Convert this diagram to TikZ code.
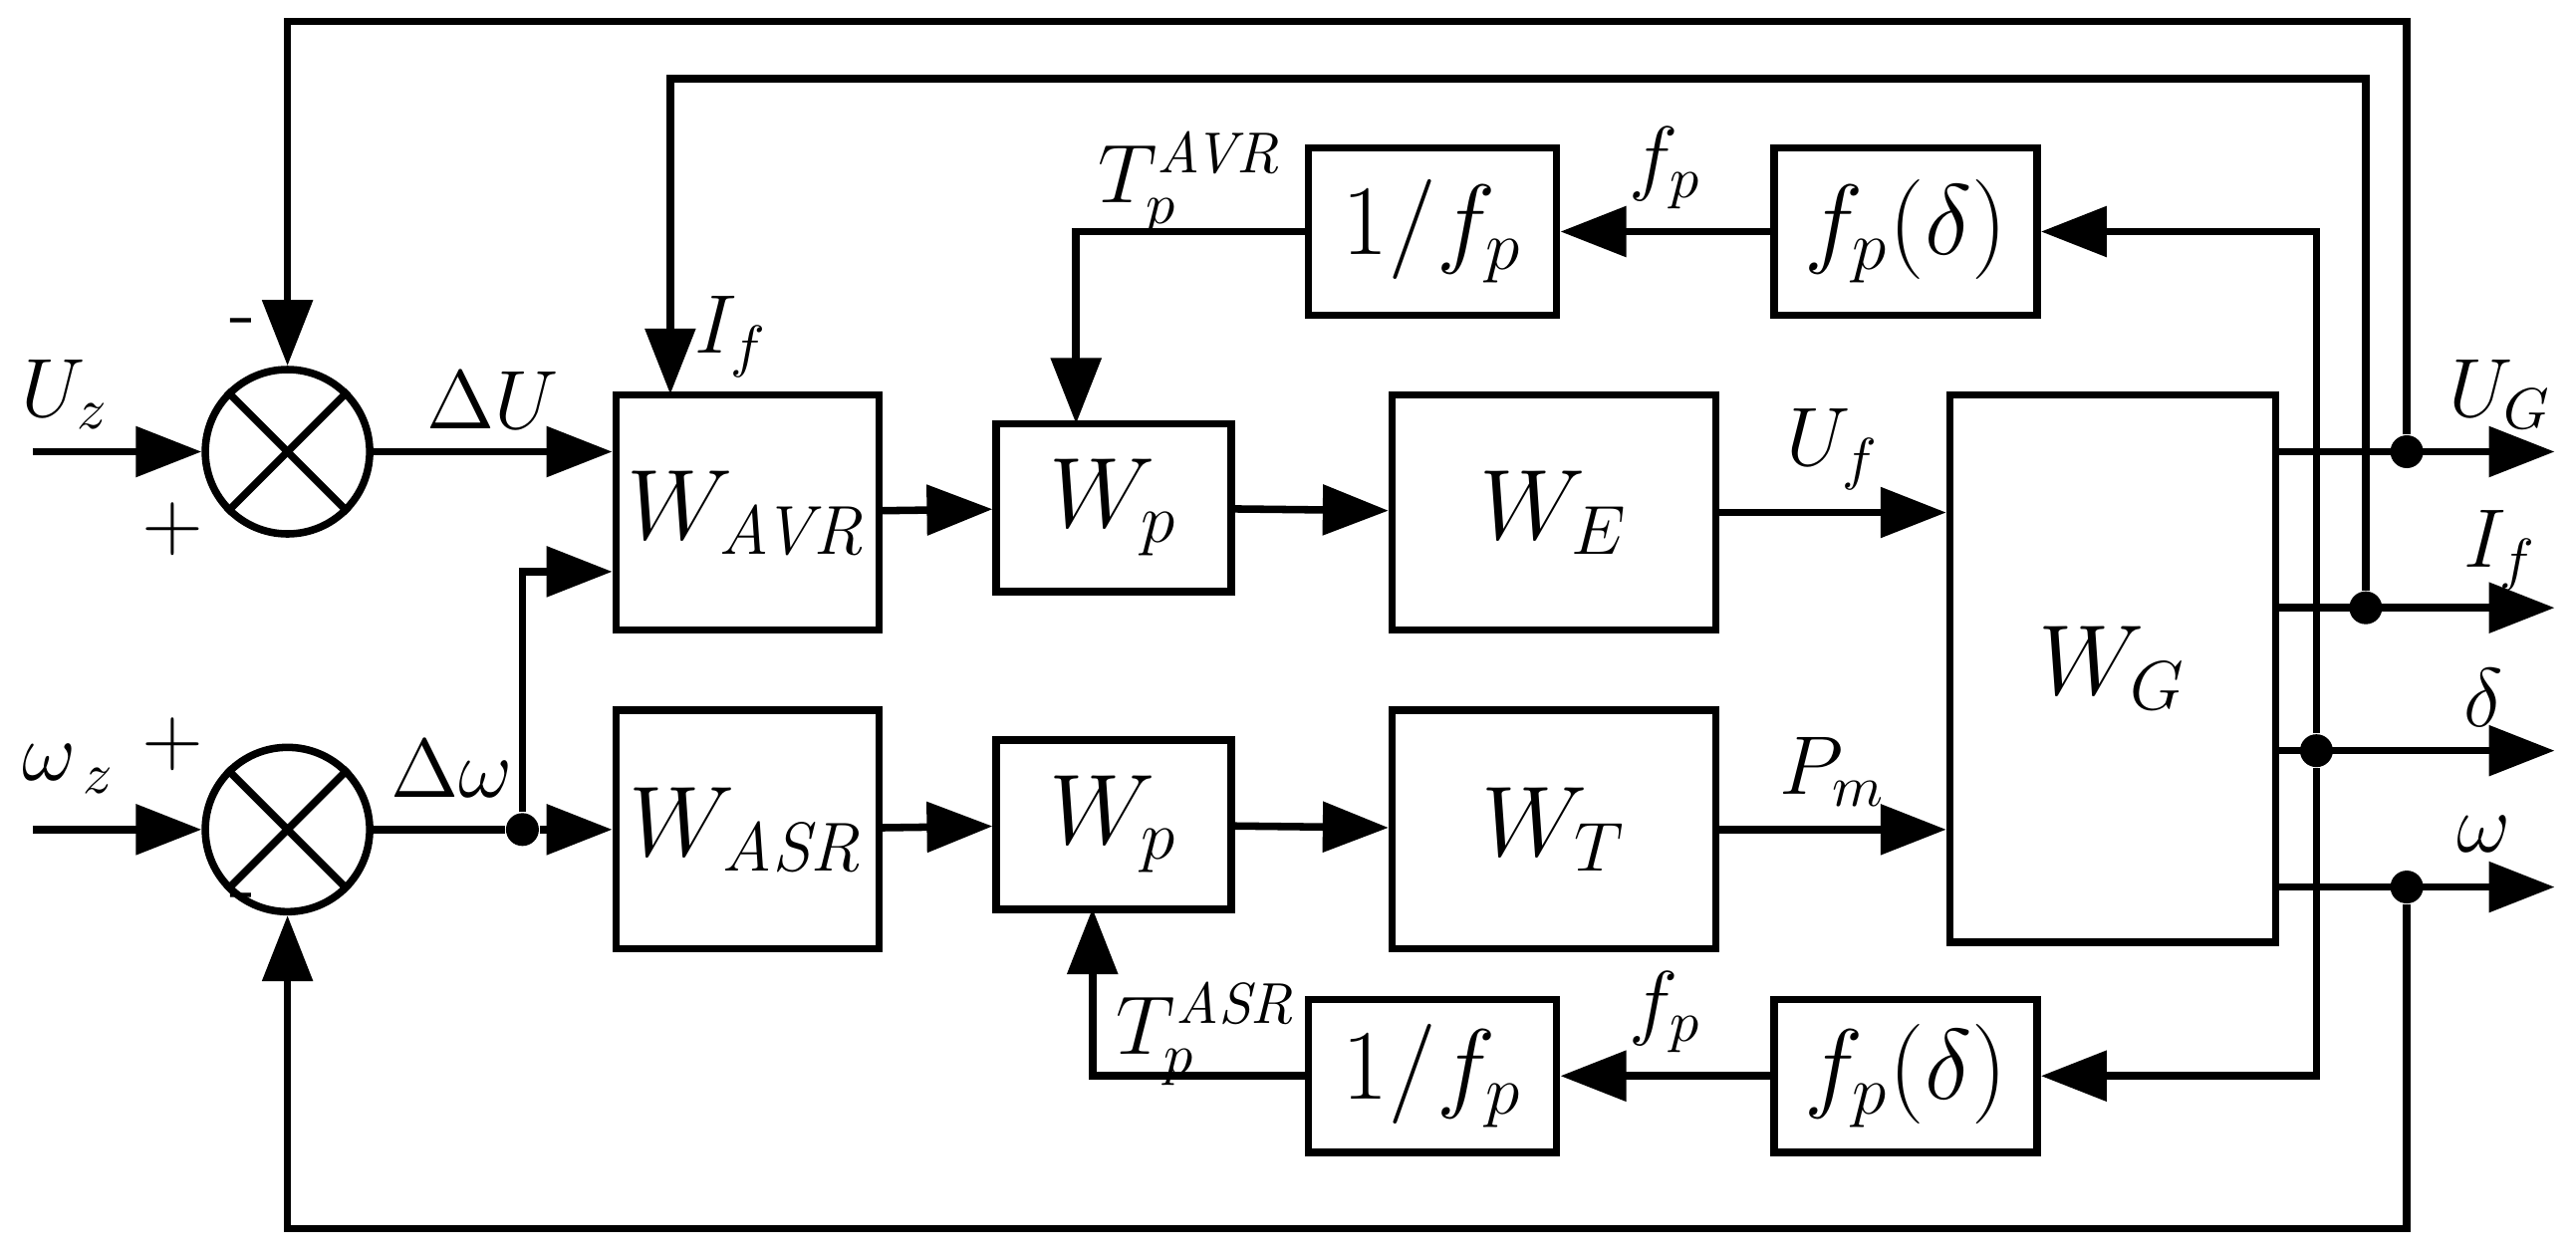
\documentclass[tikz,border=0pt]{standalone}
\usepackage{amsmath}
\usetikzlibrary{arrows.meta,calc}
\tikzset{
  blk/.style={draw, line width=1.3pt, inner sep=0pt, font=\fontsize{17}{20}\selectfont},
  sig/.style={line width=1.3pt, -{Triangle[length=4mm,width=3mm]}},
  ln/.style={line width=1.3pt},
  lab/.style={font=\fontsize{14}{17}\selectfont},
  dot/.style={circle, fill, inner sep=0pt, minimum size=2mm}
}
\begin{document}
\begin{tikzpicture}[x=0.01cm,y=-0.01cm]
  \useasboundingbox (0,0) rectangle (1568,765);
  % summing junctions
  \node[draw,circle,line width=1.3pt,minimum size=1cm](S1) at (175,275) {};
  \draw[ln] (S1.north west) -- (S1.south east) (S1.north east) -- (S1.south west);
  \node[draw,circle,line width=1.3pt,minimum size=1cm](S2) at (175,505) {};
  \draw[ln] (S2.north west) -- (S2.south east) (S2.north east) -- (S2.south west);
  \node[lab] at (148,200) {-};
  \node[lab] at (105,322) {+};
  \node[lab] at (105,453) {+};
  \node[lab] at (148,550) {-};

  % blocks
  \node[blk,minimum width=1.6cm,minimum height=1.43cm](AVR) at (455,312) {$W_{\mathit{AVR}}$};
  \node[blk,minimum width=1.6cm,minimum height=1.45cm](ASR) at (455,505) {$W_{\mathit{ASR}}$};
  \node[blk,minimum width=1.43cm,minimum height=1.02cm](WP1) at (678,309) {$W_p$};
  \node[blk,minimum width=1.43cm,minimum height=1.03cm](WP2) at (678,502) {$W_p$};
  \node[blk,minimum width=1.97cm,minimum height=1.43cm](WE) at (946,312) {$W_E$};
  \node[blk,minimum width=1.97cm,minimum height=1.45cm](WT) at (946,505) {$W_T$};
  \node[blk,minimum width=1.98cm,minimum height=3.33cm](WG) at (1286,407) {$W_G$};
  \node[blk,minimum width=1.51cm,minimum height=1.02cm](IF1) at (872,141) {$1/f_p$};
  \node[blk,minimum width=1.6cm,minimum height=1.02cm](FD1) at (1160,141) {$f_p(\delta)$};
  \node[blk,minimum width=1.51cm,minimum height=0.93cm](IF2) at (872,655) {$1/f_p$};
  \node[blk,minimum width=1.6cm,minimum height=0.93cm](FD2) at (1160,655) {$f_p(\delta)$};

  % inputs
  \coordinate (UZ) at (20,275);
  \coordinate (WZ) at (20,505);
  \node[lab] at (40,240) {$U_z$};
  \node[lab] at (42,468) {$\omega_{\,z}$};
  \draw[sig] (UZ) -- (S1);
  \draw[sig] (WZ) -- (S2);
  \draw[sig] (S1) -- (S1 -| AVR.west) node[lab,pos=0.5,above] {$\Delta U$};
  \node[dot](DW) at (318,505) {};
  \node[lab] at (275,468) {$\Delta\omega$};
  \draw[ln] (S2.east) -- (DW);
  \draw[sig] (DW) -- (DW -| ASR.west);
  \coordinate (BR) at (318,348);
  \draw[sig] (DW) -- (BR) -- (BR -| AVR.west);

  % forward path
  \draw[sig] (AVR) -- (WP1);
  \draw[sig] (WP1) -- (WE);
  \draw[sig] (WE.east) -- (WE.east -| WG.west) node[lab,pos=0.5,above] {$U_f$};
  \draw[sig] (ASR) -- (WP2);
  \draw[sig] (WP2) -- (WT);
  \draw[sig] (WT.east) -- (WT.east -| WG.west) node[lab,pos=0.5,above] {$P_m$};

  % outputs
  \coordinate (OUG) at (1555,275);
  \coordinate (OIF) at (1555,370);
  \coordinate (ODL) at (1555,457);
  \coordinate (OOM) at (1555,540);
  \draw[sig] (OUG -| WG.east) -- (OUG);
  \draw[sig] (OIF -| WG.east) -- (OIF);
  \draw[sig] (ODL -| WG.east) -- (ODL);
  \draw[sig] (OOM -| WG.east) -- (OOM);
  \node[lab] at (1522,240) {$U_G$};
  \node[lab] at (1522,335) {$I_f$};
  \node[lab] at (1512,425) {$\delta$};
  \node[lab] at (1512,508) {$\omega$};
  \node[dot](DUG) at (1465,275) {};
  \node[dot](DIF) at (1440,370) {};
  \node[dot](DDL) at (1410,457) {};
  \node[dot](DOM) at (1465,540) {};

  % feedback loops
  \draw[sig] (DUG) -- (1465,13) -- (175,13) -- (S1.north);
  \draw[sig] (DIF) -- (1440,48) -- (408,48) -- (408,240);
  \node[lab] at (445,205) {$I_f$};
  \draw[sig] (DDL) -- (DDL |- FD1) -- (FD1.east);
  \draw[sig] (DDL) -- (DDL |- FD2) -- (FD2.east);
  \draw[sig] (DOM) -- (1465,748) -- (175,748) -- (S2.south);
  \draw[sig] (FD1) -- (IF1) node[lab,pos=0.5,above] {$f_p$};
  \draw[sig] (FD2) -- (IF2) node[lab,pos=0.5,above] {$f_p$};
  \draw[sig] (IF1.west) -- (655,141) -- (655,258);
  \node[lab] at (725,112) {$T_p^{\mathit{AVR}}$};
  \draw[sig] (IF2.west) -- (665,655) -- (665,553);
  \node[lab] at (735,630) {$T_p^{\mathit{ASR}}$};
\end{tikzpicture}
\end{document}
